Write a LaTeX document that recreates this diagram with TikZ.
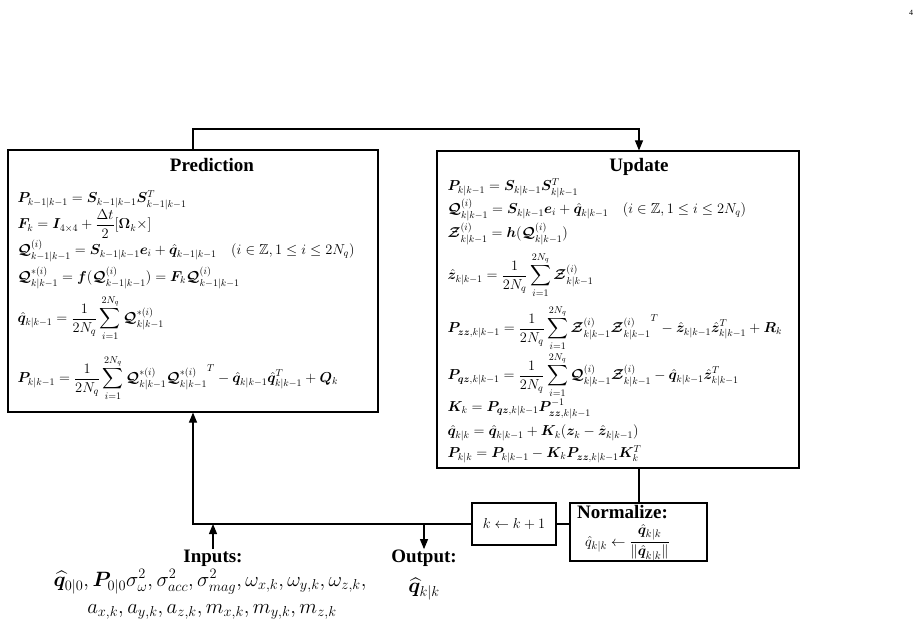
\documentclass[tikz,border=0pt]{standalone}
\usepackage[no-math]{fontspec}
\setmainfont{Liberation Serif}
\usepackage{amsmath}
\usepackage{amssymb}
\usepackage{bm}
\usetikzlibrary{arrows.meta}

\begin{document}
\begin{tikzpicture}[x=1pt,y=-1pt,line width=1.1pt,
	box/.style={draw,rectangle,inner sep=0pt},
	eqn/.style={anchor=west,inner sep=0pt,font=\fontsize{14.5}{16}\selectfont},
	head/.style={inner sep=0pt,font=\fontsize{19}{21}\selectfont\bfseries},
	inp/.style={inner sep=0pt,font=\fontsize{20}{22}\selectfont},
	arr/.style={-{Triangle[width=8pt,length=10pt]}}]

	\useasboundingbox (0,0) rectangle (923,628);

	\node[inner sep=0pt,font=\fontsize{8}{9}\selectfont] (page) at (911,13) {4};

	% the two main blocks
	\node[box,minimum width=370pt,minimum height=262pt] (pred) at (193,281) {};
	\node[box,minimum width=362pt,minimum height=317pt] (upd) at (618,309.5) {};
	\node[box,minimum width=84pt,minimum height=42pt,font=\fontsize{15.5}{17}\selectfont] (kbox) at (514,524) {$k \leftarrow k+1$};
	\node[box,minimum width=137pt,minimum height=58pt] (norm) at (638.5,532) {};

	\node[head] (predtitle) at (212,165) {Prediction};
	\node[eqn] (p1) at (17,200) {$\bm{P}_{k-1|k-1} = \bm{S}_{k-1|k-1}\bm{S}^T_{k-1|k-1}$};
	\node[eqn] (p2) at (17,224) {$\bm{F}_k = \bm{I}_{4\times4} + \dfrac{\Delta t}{2}[\bm{\Omega}_k\times]$};
	\node[eqn] (p3) at (17,251) {$\bm{\mathcal{Q}}^{(i)}_{k-1|k-1} = \bm{S}_{k-1|k-1}\bm{e}_i + \hat{\bm{q}}_{k-1|k-1} \quad (i\in\mathbb{Z}, 1\le i\le 2N_q)$};
	\node[eqn] (p4) at (17,278) {$\bm{\mathcal{Q}}^{*(i)}_{k|k-1} = \bm{f}(\bm{\mathcal{Q}}^{(i)}_{k-1|k-1}) = \bm{F}_k\bm{\mathcal{Q}}^{(i)}_{k-1|k-1}$};
	\node[eqn] (p5) at (17,318) {$\displaystyle \hat{\bm{q}}_{k|k-1} = \frac{1}{2N_q}\sum_{i=1}^{2N_q}\bm{\mathcal{Q}}^{*(i)}_{k|k-1}$};
	\node[eqn] (p6) at (17,378) {$\displaystyle \bm{P}_{k|k-1} = \frac{1}{2N_q}\sum_{i=1}^{2N_q}\bm{\mathcal{Q}}^{*(i)}_{k|k-1}{\bm{\mathcal{Q}}^{*(i)}_{k|k-1}}^{T} - \hat{\bm{q}}_{k|k-1}\hat{\bm{q}}^T_{k|k-1} + \bm{Q}_k$};

	\node[head] (updtitle) at (639,167) {Update};
	\node[eqn] (u1) at (447,188) {$\bm{P}_{k|k-1} = \bm{S}_{k|k-1}\bm{S}^T_{k|k-1}$};
	\node[eqn] (u2) at (447,210) {$\bm{\mathcal{Q}}^{(i)}_{k|k-1} = \bm{S}_{k|k-1}\bm{e}_i + \hat{\bm{q}}_{k|k-1} \quad (i\in\mathbb{Z}, 1\le i\le 2N_q)$};
	\node[eqn] (u3) at (447,234) {$\bm{\mathcal{Z}}^{(i)}_{k|k-1} = \bm{h}(\bm{\mathcal{Q}}^{(i)}_{k|k-1})$};
	\node[eqn] (u4) at (447,275) {$\displaystyle \hat{\bm{z}}_{k|k-1} = \frac{1}{2N_q}\sum_{i=1}^{2N_q}\bm{\mathcal{Z}}^{(i)}_{k|k-1}$};
	\node[eqn] (u5) at (447,328) {$\displaystyle \bm{P}_{\bm{zz},k|k-1} = \frac{1}{2N_q}\sum_{i=1}^{2N_q}\bm{\mathcal{Z}}^{(i)}_{k|k-1}{\bm{\mathcal{Z}}^{(i)}_{k|k-1}}^{T} - \hat{\bm{z}}_{k|k-1}\hat{\bm{z}}^T_{k|k-1} + \bm{R}_k$};
	\node[eqn] (u6) at (447,375) {$\displaystyle \bm{P}_{\bm{qz},k|k-1} = \frac{1}{2N_q}\sum_{i=1}^{2N_q}\bm{\mathcal{Q}}^{(i)}_{k|k-1}\bm{\mathcal{Z}}^{(i)}_{k|k-1} - \hat{\bm{q}}_{k|k-1}\hat{\bm{z}}^T_{k|k-1}$};
	\node[eqn] (u7) at (447,409) {$\bm{K}_k = \bm{P}_{\bm{qz},k|k-1}\bm{P}^{-1}_{\bm{zz},k|k-1}$};
	\node[eqn] (u8) at (447,433) {$\hat{\bm{q}}_{k|k} = \hat{\bm{q}}_{k|k-1} + \bm{K}_k(\bm{z}_k - \hat{\bm{z}}_{k|k-1})$};
	\node[eqn] (u9) at (447,454) {$\bm{P}_{k|k} = \bm{P}_{k|k-1} - \bm{K}_k\bm{P}_{\bm{zz},k|k-1}\bm{K}^T_k$};

	\node[head] (normtitle) at (622.5,512) {Normalize:};
	\node[inner sep=0pt,font=\fontsize{15}{17}\selectfont] (normeq) at (627.5,543) {$\hat{q}_{k|k} \leftarrow \dfrac{\hat{\bm{q}}_{k|k}}{\|\hat{\bm{q}}_{k|k}\|}$};

	\node[head] (inptitle) at (213,558) {Inputs:};
	\node[inp] (inp1) at (210,582) {$\widehat{\bm{q}}_{0|0}, \bm{P}_{0|0}\sigma^2_{\omega}, \sigma^2_{acc}, \sigma^2_{mag}, \omega_{x,k}, \omega_{y,k}, \omega_{z,k},$};
	\node[inp] (inp2) at (212,612) {$a_{x,k}, a_{y,k}, a_{z,k}, m_{x,k}, m_{y,k}, m_{z,k}$};

	\node[head] (outtitle) at (424,558) {Output:};
	\node[inp] (out1) at (424,589) {$\widehat{\bm{q}}_{k|k}$};

	% connectors
	\coordinate (top) at (639,129);
	\draw[arr] (pred.north) |- (top) -- (top |- upd.north);
	\draw (top |- upd.south) -- (top |- norm.north);
	\draw (kbox.east) -- (kbox.east -| norm.west);
	\draw[arr] (kbox.west) -| (pred.south);
	\draw[arr] (inptitle.north) -- (inptitle.north |- kbox.west);
	\draw[arr] (outtitle.north |- kbox.west) -- (outtitle.north);

\end{tikzpicture}
\end{document}
